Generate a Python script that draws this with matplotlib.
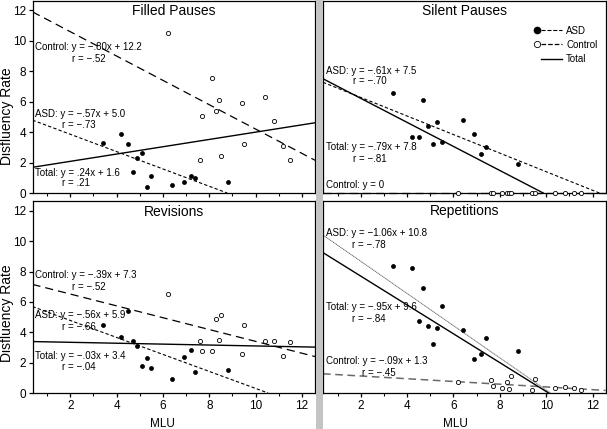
import matplotlib
matplotlib.use('Agg')
import matplotlib.pyplot as plt
import numpy as np
from matplotlib.legend_handler import HandlerBase
from matplotlib.lines import Line2D
from matplotlib.patches import Rectangle

plt.rcParams['font.family'] = ['Liberation Sans', 'DejaVu Sans']

# ---------------- data ----------------
asd_mlu = [3.4, 4.2, 4.5, 4.7, 4.9, 5.1, 5.3, 5.5, 6.4, 6.9, 7.2, 7.4, 8.8]
ctl_mlu = [6.2, 7.6, 7.7, 8.1, 8.3, 8.4, 8.5, 9.4, 9.5, 10.4, 10.8, 11.2, 11.5]

fp_asd = [3.3, 3.9, 3.2, 1.35, 2.3, 2.6, 0.4, 1.1, 0.5, 0.75, 1.15, 1.0, 0.7]
fp_ctl = [10.5, 2.2, 5.05, 7.55, 5.4, 6.1, 2.45, 5.9, 3.25, 6.3, 4.75, 3.1, 2.15]

sp_asd = [6.6, 3.65, 3.65, 6.1, 4.4, 3.2, 4.65, 3.35, 4.8, 3.85, 2.55, 3.05, 1.9]
sp_ctl = [0, 0, 0, 0, 0, 0, 0, 0, 0, 0, 0, 0, 0]

rev_asd = [4.45, 3.7, 5.4, 3.45, 3.1, 1.8, 2.3, 1.65, 0.95, 2.35, 2.85, 1.4, 1.5]
rev_ctl = [6.55, 3.45, 2.8, 2.75, 4.9, 3.5, 5.15, 2.6, 4.45, 3.4, 3.4, 2.45, 3.35]

rep_asd = [8.4, 8.25, 4.75, 6.95, 4.4, 3.2, 4.25, 5.75, 4.15, 2.25, 2.55, 3.6, 2.8]
rep_ctl = [0.7, 0.85, 0.45, 0.3, 0.75, 0.25, 1.1, 0.2, 0.9, 0.35, 0.4, 0.35, 0.2]

titles = ['Filled Pauses', 'Silent Pauses', 'Revisions', 'Repetitions']

# regression lines (slope, intercept)
asd_fit = [(-0.57, 5.0), (-0.61, 7.5), (-0.56, 5.9), (-1.06, 10.8)]
ctl_fit = [(-0.80, 12.2), (0.0, 0.0), (-0.39, 7.3), (-0.09, 1.3)]
tot_fit = [(0.24, 1.6), (-0.79, 7.8), (-0.03, 3.4), (-0.95, 9.6)]

# annotation labels
ann_fp = [('Control: y = \u2212.80x + 12.2', 'r = \u2212.52'),
          ('ASD: y = \u2212.57x + 5.0', 'r = \u2212.73'),
          ('Total: y = .24x + 1.6', 'r = .21')]
ann_sp = [('ASD: y = \u2212.61x + 7.5', 'r = \u2212.70'),
          ('Total: y = \u2212.79x + 7.8', 'r = \u2212.81'),
          ('Control: y = 0', None)]
ann_rev = [('Control: y = \u2212.39x + 7.3', 'r = \u2212.52'),
           ('ASD: y = \u2212.56x + 5.9', 'r = \u2212.66'),
           ('Total: y = \u2212.03x + 3.4', 'r = \u2212.04')]
ann_rep = [('ASD: y = \u22121.06x + 10.8', 'r = \u2212.78'),
           ('Total: y = \u2212.95x + 9.6', 'r = \u2212.84'),
           ('Control: y = \u2212.09x + 1.3', 'r = \u2212.45')]

legend_labels = ['ASD', 'Control', 'Total']

# ---------------- layout ----------------
W, H = 607, 429
fig = plt.figure(figsize=(W / 100, H / 100), dpi=100)

boxes = [(32.5, 315, 0.5, 193), (323, 605.5, 0.5, 193),
         (32.5, 315, 201, 393), (323, 605.5, 201, 393)]

fig.patches.append(Rectangle((315.5 / W, 0), 7 / W, 1, transform=fig.transFigure,
                             facecolor='#c4c4c4', edgecolor='none', zorder=0))

XLIM = (0.37, 12.56)
YLIM = (0.0, 12.65)

# annotation positions in pixels: (x_left, y_center, x_r, y_r_center)
ann_pos = [
    [(35, 46.5, 71.5, 59.5), (35, 114, 61.5, 125.5), (35, 173.5, 61.5, 183.5)],
    [(325.5, 70.5, 353, 80.5), (325.5, 146.5, 353, 159), (325.5, 185, None, None)],
    [(35, 275.5, 71.5, 287.5), (35, 315.5, 61.5, 326.5), (35, 356, 61.5, 367.5)],
    [(325.5, 232.5, 352.5, 244.5), (325.5, 307.5, 352.5, 319.5), (325.5, 360.5, 362.5, 372.5)],
]
anns = [ann_fp, ann_sp, ann_rev, ann_rep]
asd_vals = [fp_asd, sp_asd, rev_asd, rep_asd]
ctl_vals = [fp_ctl, sp_ctl, rev_ctl, rep_ctl]

asd_style = dict(color='black', lw=0.8, linestyle=(0, (3, 2)))
ctl_style = dict(color='black', lw=0.9, linestyle=(0, (6.5, 4)))
tot_style = dict(color='black', lw=1.0, linestyle='-')


def fit_line(ax, m, b, style, clip_zero=True):
    x0, x1 = XLIM
    if clip_zero and m < 0 and -b / m < x1:
        x1 = -b / m
    xs = np.array([x0, x1])
    ax.plot(xs, m * xs + b, clip_on=False if b == 0 else True, **style)


class MarkerLineHandler(HandlerBase):
    def create_artists(self, legend, orig_handle, xdescent, ydescent,
                       width, height, fontsize, trans):
        y = height / 2.0 - ydescent
        x0 = -xdescent
        arts = []
        ln = Line2D([x0 + 0.2 * width, x0 + width], [y, y],
                    color=orig_handle.get_color(),
                    linestyle=orig_handle.get_linestyle(),
                    linewidth=orig_handle.get_linewidth())
        ln.set_transform(trans)
        arts.append(ln)
        mk = orig_handle.get_marker()
        if mk not in (None, 'None', '', ' '):
            m = Line2D([x0 + 0.02 * width], [y], marker=mk, linestyle='None',
                       markersize=orig_handle.get_markersize(),
                       markerfacecolor=orig_handle.get_markerfacecolor(),
                       markeredgecolor=orig_handle.get_markeredgecolor(),
                       markeredgewidth=orig_handle.get_markeredgewidth())
            m.set_transform(trans)
            arts.append(m)
        return arts


for i, (x0p, x1p, ytp, ybp) in enumerate(boxes):
    ax = fig.add_axes([x0p / W, 1 - ybp / H, (x1p - x0p) / W, (ybp - ytp) / H])
    ax.set_xlim(*XLIM)
    ax.set_ylim(*YLIM)
    for s in ax.spines.values():
        s.set_linewidth(0.9)
    ax.set_xticks(range(2, 13, 2))
    ax.set_xticks(range(1, 13, 2), minor=True)
    ax.set_yticks(range(0, 13, 2))
    ax.tick_params(which='major', direction='out', length=3.2, width=0.9,
                   labelsize=8.5, pad=1.5)
    ax.tick_params(which='minor', direction='out', length=1.8, width=0.8)
    if i < 2:
        ax.tick_params(labelbottom=False)
    if i % 2 == 1:
        ax.tick_params(labelleft=False)

    # lines
    ma, ba = asd_fit[i]
    mc, bc = ctl_fit[i]
    mt, bt = tot_fit[i]
    if i == 3:
        fit_line(ax, ma, ba, dict(color='#555555', lw=0.6, linestyle=(0, (1.5, 0.6))))
        fit_line(ax, mc, bc, dict(color='#6a6a6a', lw=1.1, linestyle=(0, (5, 3))))
    else:
        fit_line(ax, ma, ba, asd_style)
        fit_line(ax, mc, bc, ctl_style, clip_zero=False)
    fit_line(ax, mt, bt, tot_style)

    # points
    ax.plot(asd_mlu, asd_vals[i], 'o', ms=2.9, mfc='black', mec='black', mew=0.5,
            clip_on=False, zorder=3)
    ax.plot(ctl_mlu, ctl_vals[i], 'o', ms=3.0, mfc='white', mec='black', mew=0.6,
            clip_on=False, zorder=3)

    # title
    ax.text(0.5, 1 - 10.5 / (ybp - ytp), titles[i], transform=ax.transAxes,
            ha='center', va='center', fontsize=10)

    # annotations
    def fx(px):
        return (px - x0p) / (x1p - x0p)

    def fy(py):
        return (ybp - py) / (ybp - ytp)

    for (eq, rr), (xa, ya, xr, yr) in zip(anns[i], ann_pos[i]):
        ax.text(fx(xa), fy(ya), eq, transform=ax.transAxes, ha='left',
                va='center', fontsize=7)
        if rr is not None:
            ax.text(fx(xr), fy(yr), rr, transform=ax.transAxes, ha='left',
                    va='center', fontsize=7)

    if i == 1:
        handles = [Line2D([], [], marker='o', ms=4.5, mfc='black', mec='black',
                          **asd_style),
                   Line2D([], [], marker='o', ms=4.5, mfc='white', mec='black',
                          mew=0.6, **ctl_style),
                   Line2D([], [], marker='None', **tot_style)]
        leg = ax.legend(handles, legend_labels, loc='upper right',
                        bbox_to_anchor=(1 - 8 / (x1p - x0p), 1 - 25 / (ybp - ytp)),
                        frameon=False, fontsize=7, handlelength=2.7,
                        handletextpad=0.4, labelspacing=0.45, borderpad=0,
                        borderaxespad=0,
                        handler_map={Line2D: MarkerLineHandler()})

# axis labels
fig.text(7.5 / W, 1 - 116 / H, 'Disfluency Rate', rotation=90, ha='center',
         va='center', fontsize=10)
fig.text(7.5 / W, 1 - 313 / H, 'Disfluency Rate', rotation=90, ha='center',
         va='center', fontsize=10)
fig.text(162 / W, 1 - 424 / H, 'MLU', ha='center', va='center', fontsize=8.5)
fig.text(455 / W, 1 - 424 / H, 'MLU', ha='center', va='center', fontsize=8.5)

fig.savefig('out.png', dpi=100)
